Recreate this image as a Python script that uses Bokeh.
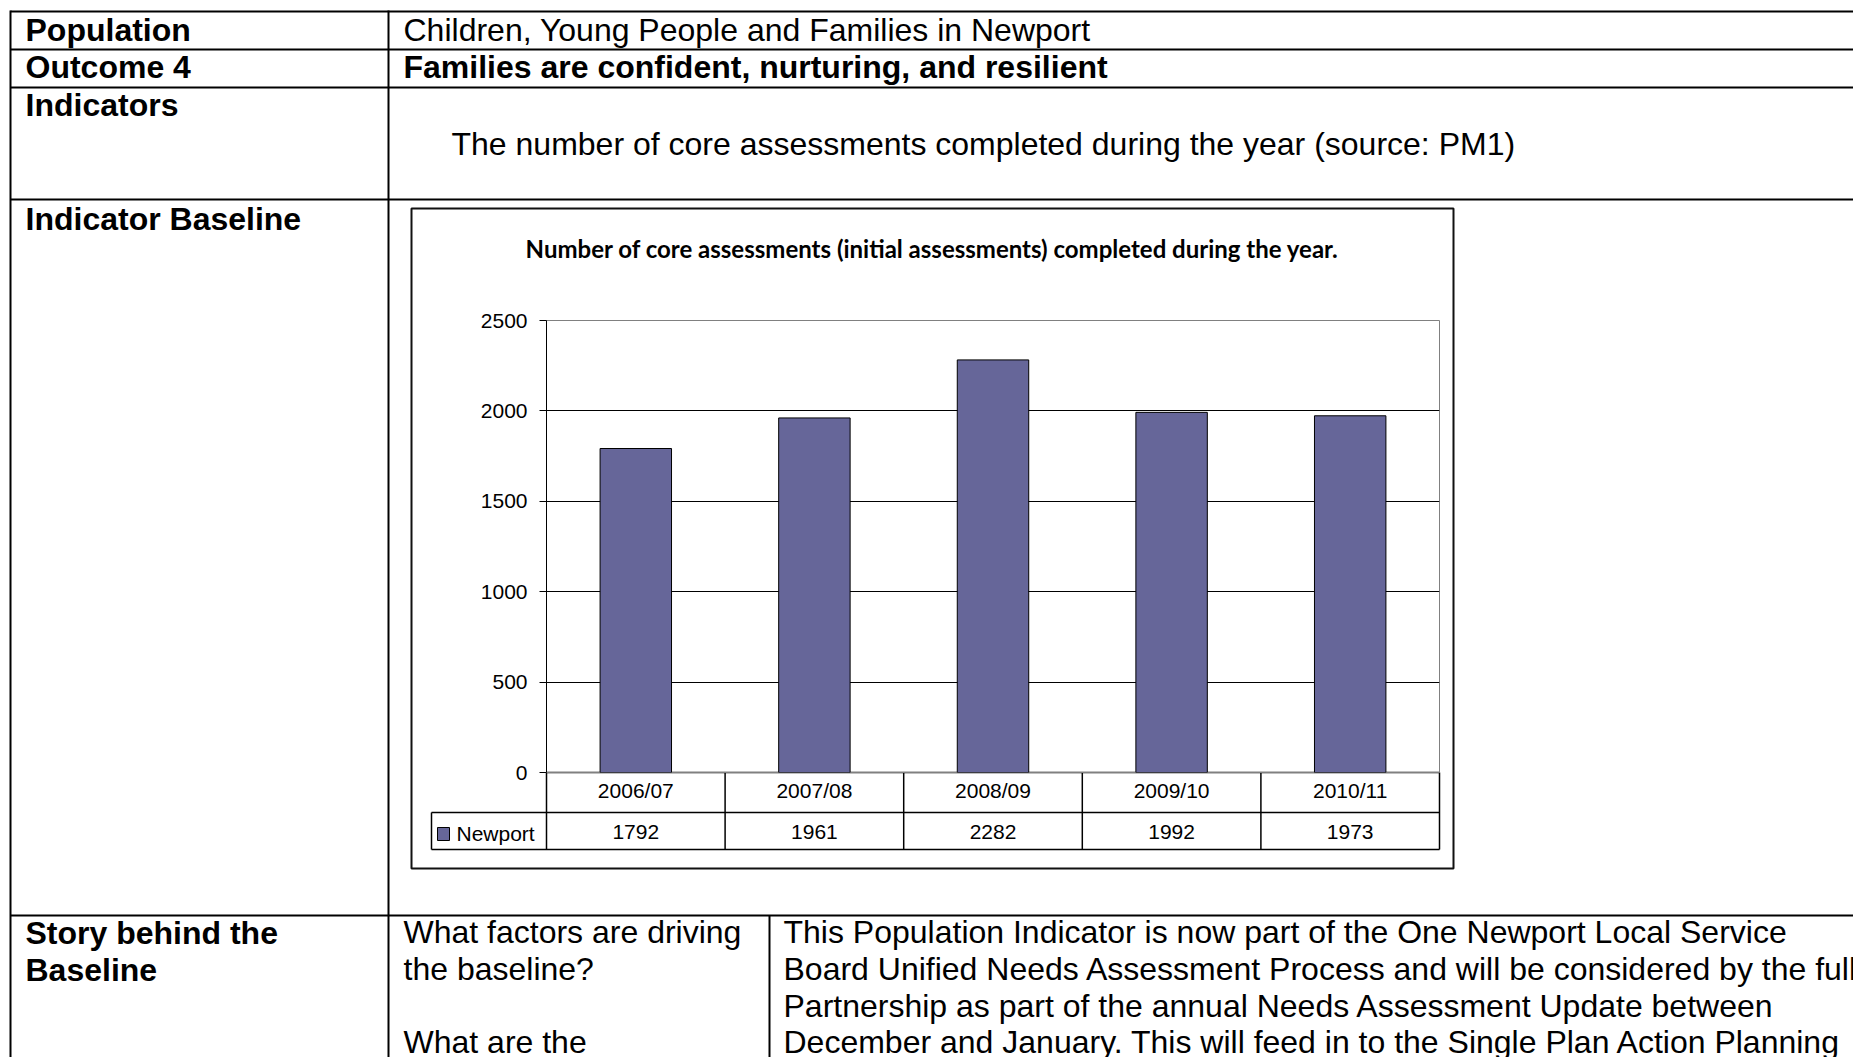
from bokeh.plotting import figure
from bokeh.models import Range1d, FactorRange, FixedTicker, CategoricalAxis
from bokeh.core.properties import value
from bokeh.embed import file_html
from bokeh.resources import INLINE

# ---------------- data ----------------
categories = ["2006/07", "2007/08", "2008/09", "2009/10", "2010/11"]
assessments = [1792, 1961, 2282, 1992, 1973]
y_ticks = [0, 500, 1000, 1500, 2000, 2500]
series_name = "Newport"
chart_title = "Number of core assessments (initial assessments) completed during the year."

row_labels = ["Population", "Outcome 4", "Indicators", "Indicator Baseline"]
population_text = "Children, Young People and Families in Newport"
outcome_text = "Families are confident, nurturing, and resilient"
indicator_text = "The number of core assessments completed during the year (source: PM1)"
story_label = ["Story behind the", "Baseline"]
story_questions = ["What factors are driving", "the baseline?", "", "What are the"]
story_text = [
    "This Population Indicator is now part of the One Newport Local Service",
    "Board Unified Needs Assessment Process and will be considered by the full",
    "Partnership as part of the annual Needs Assessment Update between",
    "December and January. This will feed in to the Single Plan Action Planning",
]

BAR = "#666699"
FONT = value("Liberation Sans")
TFS = value("32px")
CFS = "21px"

# ---------------- background page (table), page-pixel coordinates ----------------
W, H = 1853, 1057
bg = figure(width=W, height=H, x_range=Range1d(0, W), y_range=Range1d(H, 0),
            output_backend="svg", toolbar_location=None, min_border=0,
            x_axis_location=None, y_axis_location=None)
bg.grid.visible = False
bg.outline_line_color = None
bg.background_fill_color = "white"
bg.border_fill_color = "white"

# table rules
hy = [11, 49, 87, 199, 915]
bg.segment(x0=[10] * 5, y0=hy, x1=[1860] * 5, y1=hy, line_color="black", line_width=2)
bg.segment(x0=[10, 388, 769], y0=[10, 10, 915], x1=[10, 388, 769], y1=[1060, 1060, 1060],
           line_color="black", line_width=2)

# row label texts (bold)
bg.text(x=[25, 25, 25, 25], y=[29, 66, 104, 218], text=row_labels, text_font=FONT,
        text_font_size=TFS, text_font_style="bold", text_baseline="middle", text_color="black")
bg.text(x=[25, 25], y=[932, 969], text=story_label, text_font=FONT,
        text_font_size=TFS, text_font_style="bold", text_baseline="middle", text_color="black")
# content texts
bg.text(x=[403], y=[29], text=[population_text], text_font=FONT, text_font_size=TFS,
        text_baseline="middle", text_color="black")
bg.text(x=[403], y=[66], text=[outcome_text], text_font=FONT, text_font_size=TFS,
        text_font_style="bold", text_baseline="middle", text_color="black")
bg.text(x=[451], y=[143], text=[indicator_text], text_font=FONT, text_font_size=TFS,
        text_baseline="middle", text_color="black")
bg.text(x=[403] * 4, y=[931, 968, 1005, 1041], text=story_questions, text_font=FONT,
        text_font_size=TFS, text_baseline="middle", text_color="black")
bg.text(x=[783] * 4, y=[931, 968, 1005, 1041], text=story_text, text_font=FONT,
        text_font_size=TFS, text_baseline="middle", text_color="black")

# chart frame box
bg.quad(left=[411], right=[1453], top=[208], bottom=[868], fill_color=None,
        line_color="#111111", line_width=2)
bg.text(x=[932], y=[248], text=[chart_title], text_font=value("Lato"), text_font_size=value("24px"),
        text_font_style="bold", text_align="center", text_baseline="middle", text_color="black")

# data table rules under the chart
PL, PR, P0, R1, R2 = 546, 1439, 772, 812, 849
cw = (PR - PL) / len(categories)
vx = [PL + i * cw for i in range(len(categories) + 1)]
bg.segment(x0=vx, y0=[P0] * len(vx), x1=vx, y1=[R2] * len(vx), line_color="black", line_width=1.5)
bg.segment(x0=[431, 431, 431, PL], y0=[R1, R2, R1, P0], x1=[PR, PR, 431, PR], y1=[R1, R2, R2, P0],
           line_color="black", line_width=1.5)
bg.quad(left=[437], right=[449], top=[827], bottom=[840], fill_color=BAR, line_color="black", line_width=1)
bg.text(x=[456], y=[833], text=[series_name], text_font=FONT, text_font_size=value(CFS),
        text_baseline="middle", text_color="black")

# ---------------- chart (overlaid) ----------------
chart = figure(width=975, height=560, x_range=FactorRange(*categories), y_range=Range1d(0, 2500),
               output_backend="svg", toolbar_location=None,
               min_border_left=76, min_border_right=6, min_border_top=20, min_border_bottom=88)
chart.background_fill_alpha = 0
chart.border_fill_alpha = 0
chart.outline_line_color = "#808080"
chart.outline_line_width = 1
chart.extra_x_ranges = {"values": FactorRange(*[str(v) for v in assessments])}

chart.vbar(x=categories, top=assessments, width=0.4, fill_color=BAR, line_color="black", line_width=1)

chart.xgrid.visible = False
chart.ygrid.ticker = FixedTicker(ticks=y_ticks[:-1])
chart.ygrid.grid_line_color = "black"
chart.ygrid.grid_line_width = 1

ya = chart.yaxis[0]
ya.ticker = FixedTicker(ticks=y_ticks)
ya.major_tick_out = 7
ya.major_tick_in = 0
ya.minor_tick_line_color = None
ya.major_label_standoff = 12
ya.axis_line_color = "black"
ya.major_tick_line_color = "black"
ya.major_label_text_font = "Liberation Sans"
ya.major_label_text_font_size = CFS
ya.major_label_text_color = "black"

xa = chart.xaxis[0]
xa.axis_line_color = None
xa.major_tick_line_color = None
xa.major_label_standoff = 0
xa.major_label_text_font = "Liberation Sans"
xa.major_label_text_font_size = CFS
xa.major_label_text_color = "black"

va = CategoricalAxis(x_range_name="values")
va.axis_line_color = None
va.major_tick_line_color = None
va.major_label_standoff = 14
va.major_label_text_font = "Liberation Sans"
va.major_label_text_font_size = CFS
va.major_label_text_color = "black"
chart.add_layout(va, "below")

chart.styles = {"position": "absolute", "left": "470px", "top": "300px"}

open("out.html", "w").write(file_html([bg, chart], INLINE))
